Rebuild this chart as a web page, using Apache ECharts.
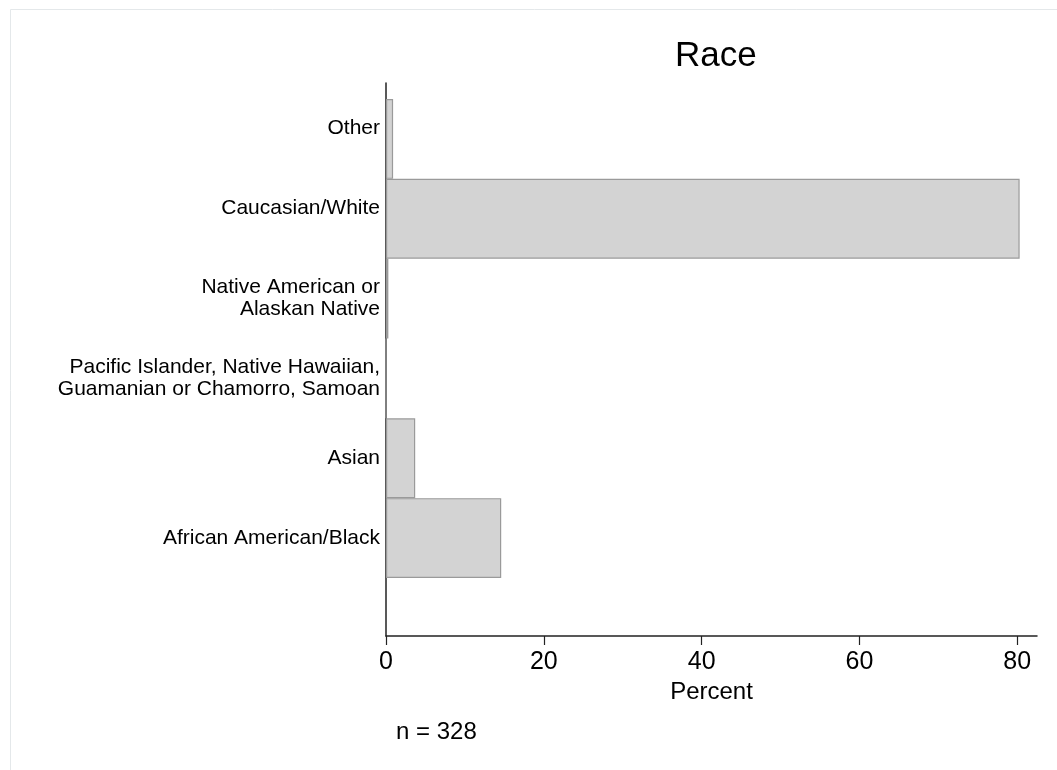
<!DOCTYPE html>
<html>
<head>
<meta charset="utf-8">
<script src="https://cdn.jsdelivr.net/npm/echarts@6/dist/echarts.min.js"></script>
<style>
html,body{margin:0;padding:0;background:#fff;}
#chart{width:1057px;height:770px;}
</style>
</head>
<body>
<div id="chart"></div>
<script>
// Data (bottom to top, as drawn by the category axis)
const categories = [
  'African American/Black',
  'Asian',
  'Pacific Islander, Native Hawaiian,\nGuamanian or Chamorro, Samoan',
  'Native American or\nAlaskan Native',
  'Caucasian/White',
  'Other'
];
const percents = [14.6, 3.7, 0, 0.3, 80.3, 0.9];
const xTicks = [0, 20, 40, 60, 80];
const xMax = 82.5;
const titleText = 'Race';
const noteText = 'n = 328';
const xName = 'Percent';

const FONT = "'Liberation Sans', Arial, Helvetica, sans-serif";
const raised = ['Other', 'Caucasian/White'];

const chart = echarts.init(document.getElementById('chart'), null, {renderer: 'canvas'});
chart.setOption({
  backgroundColor: '#ffffff',
  animation: false,
  title: [
    {text: titleText, left: 670, top: 34,
     textStyle: {fontFamily: FONT, fontSize: 35, fontWeight: 'normal', color: '#000'}},
    {text: noteText, left: 391, top: 715,
     textStyle: {fontFamily: FONT, fontSize: 24, fontWeight: 'normal', color: '#000'}}
  ],
  graphic: [{
    type: 'rect', left: 8, top: 7, silent: true,
    shape: {width: 1100, height: 800},
    style: {fill: 'none', stroke: '#e4e8ea', lineWidth: 1}
  }],
  grid: [
    {left: 386, right: 20, top: 83, bottom: 134},
    {left: 386, right: 20, top: 99, bottom: 192}
  ],
  xAxis: [
    {gridIndex: 0, type: 'value', min: 0, max: xMax, interval: 20,
     name: xName, nameLocation: 'middle', nameGap: 44,
     nameTextStyle: {fontFamily: FONT, fontSize: 24, color: '#000'},
     axisLine: {show: true, lineStyle: {color: '#222', width: 1.5}},
     axisTick: {show: true, length: 9, customValues: xTicks, lineStyle: {color: '#222', width: 1.2}},
     axisLabel: {customValues: xTicks, margin: 14, fontFamily: FONT, fontSize: 25, color: '#000'},
     splitLine: {show: false}},
    {gridIndex: 1, type: 'value', min: 0, max: xMax, show: false}
  ],
  yAxis: [
    {gridIndex: 0, type: 'value', min: 0, max: 1,
     axisLine: {show: true, lineStyle: {color: '#222', width: 1.5}},
     axisTick: {show: false}, axisLabel: {show: false}, splitLine: {show: false}},
    {gridIndex: 1, type: 'category', data: categories,
     axisLine: {show: false}, axisTick: {show: false}, splitLine: {show: false},
     axisLabel: {
       margin: 6, fontFamily: FONT, fontSize: 21, lineHeight: 22, color: '#000', align: 'right',
       formatter: function (v) { return raised.indexOf(v) >= 0 ? v + '\n ' : v; }
     }}
  ],
  series: [{
    type: 'bar', xAxisIndex: 1, yAxisIndex: 1,
    data: percents, barWidth: '100%',
    itemStyle: {color: '#d3d3d3', borderColor: '#9a9a9a', borderWidth: 1.2}
  }]
});
</script>
</body>
</html>
